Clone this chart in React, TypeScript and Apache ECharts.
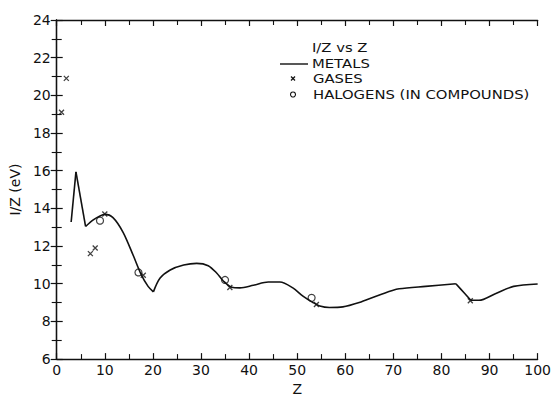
import React, { useEffect, useRef } from "react";
import * as echarts from "echarts";

// Metals: I/Z curve, [Z, I/Z in eV]
const metalsZ = [3, 4, 6, 7.6, 9, 10, 11.7, 13.8, 15.9, 17.6, 19, 20.1, 21.5, 23.6, 26.4, 29.1, 31.5, 33.3, 34.6, 36.4, 38.1, 40.9, 44, 46.4, 49.1, 51.2, 53.3, 54.7, 56.7, 59.5, 62.9, 66.4, 69.8, 71.2, 76.7, 83, 84.7, 86.1, 87.8, 91.2, 95, 100];
const metalsIZ = [13.28, 15.94, 13.04, 13.39, 13.6, 13.68, 13.51, 12.73, 11.51, 10.47, 9.86, 9.57, 10.3, 10.73, 10.99, 11.08, 10.96, 10.56, 10.16, 9.81, 9.78, 9.92, 10.09, 10.09, 9.78, 9.34, 9.0, 8.82, 8.74, 8.77, 9.0, 9.34, 9.64, 9.73, 9.86, 10.0, 9.52, 9.12, 9.12, 9.47, 9.86, 9.99];
// Z values where the metals curve has a sharp corner
const metalsCorners = [4, 6, 20.1, 83, 86.1];

// Gases
const gasesZ = [1, 2, 7, 8, 10, 18, 36, 54, 86];
const gasesIZ = [19.1, 20.9, 11.6, 11.9, 13.7, 10.45, 9.8, 8.9, 9.1];

// Halogens (in compounds)
const halogensZ = [9, 17, 35, 53];
const halogensIZ = [13.35, 10.6, 10.2, 9.25];

const xTicks = { min: 0, max: 100, interval: 10 };
const yTicks = { min: 6, max: 24, interval: 2 };

const INK = "#111";
const FONT = "DejaVu Sans";
const CROSS = "path://M0,0L10,10M10,0L0,10";

const zip = (xs: number[], ys: number[]) => xs.map((x, i) => [x, ys[i]]);

// Split the curve at its corners so each piece is smoothed on its own
function splitAtCorners(pts: number[][], corners: number[]) {
  const pieces: number[][][] = [];
  let cur: number[][] = [];
  pts.forEach((p) => {
    cur.push(p);
    if (corners.includes(p[0])) {
      pieces.push(cur);
      cur = [p];
    }
  });
  if (cur.length > 1) pieces.push(cur);
  return pieces;
}

export default function App() {
  const ref = useRef<HTMLDivElement>(null);

  useEffect(() => {
    if (!ref.current) return;
    const chart = echarts.init(ref.current, undefined, { renderer: "svg" });

    const axisCommon = {
      axisLine: { show: true, lineStyle: { color: INK, width: 1.3 } },
      axisTick: { show: true, inside: true, length: 6, lineStyle: { color: INK, width: 1.2 } },
      minorTick: { show: true, splitNumber: 2, length: 5, lineStyle: { color: INK, width: 1.1 } },
      splitLine: { show: false },
      axisLabel: { color: INK, fontFamily: FONT, fontSize: 14 },
    };

    const metalPieces = splitAtCorners(zip(metalsZ, metalsIZ), metalsCorners).map((piece, i) => ({
      name: "METALS",
      id: "metals-" + i,
      type: "line",
      data: piece,
      showSymbol: false,
      smooth: 0.3,
      lineStyle: { color: INK, width: 1.6 },
      z: 2,
    }));

    const legendText = (text: string, x: number, y: number, size: number) => ({
      type: "text",
      x,
      y,
      scaleX: 1.14,
      style: { text, fill: INK, font: `${size}px ${FONT}`, verticalAlign: "middle" },
    });

    chart.setOption({
      animation: false,
      backgroundColor: "#fff",
      grid: { left: 56, right: 15, top: 20, bottom: 35, containLabel: false },
      xAxis: [
        {
          type: "value",
          ...xTicks,
          position: "bottom",
          ...axisCommon,
          axisLabel: { ...axisCommon.axisLabel, margin: 4 },
          name: "Z",
          nameLocation: "middle",
          nameGap: 21,
          nameTextStyle: { color: INK, fontFamily: FONT, fontSize: 14 },
        },
        {
          type: "value",
          ...xTicks,
          position: "top",
          ...axisCommon,
          axisLabel: { show: false },
        },
      ],
      yAxis: [
        {
          type: "value",
          ...yTicks,
          position: "left",
          ...axisCommon,
          axisLabel: { ...axisCommon.axisLabel, margin: 6 },
          name: "I/Z (eV)",
          nameLocation: "middle",
          nameGap: 30,
          nameTextStyle: { color: INK, fontFamily: FONT, fontSize: 14 },
        },
        {
          type: "value",
          ...yTicks,
          position: "right",
          ...axisCommon,
          axisLabel: { show: false },
        },
      ],
      series: [
        ...metalPieces,
        {
          name: "GASES",
          type: "scatter",
          data: zip(gasesZ, gasesIZ),
          symbol: CROSS,
          symbolSize: 5,
          itemStyle: { color: "transparent", borderColor: INK, borderWidth: 1.3 },
          z: 3,
        },
        {
          name: "HALOGENS (IN COMPOUNDS)",
          type: "scatter",
          data: zip(halogensZ, halogensIZ),
          symbol: "circle",
          symbolSize: 7,
          itemStyle: { color: "transparent", borderColor: INK, borderWidth: 1.2 },
          z: 3,
        },
      ],
      graphic: [
        legendText("I/Z vs Z", 312, 47, 13),
        {
          type: "line",
          shape: { x1: 280, y1: 64, x2: 308, y2: 64 },
          style: { stroke: INK, lineWidth: 1.4 },
        },
        legendText("METALS", 312, 63, 13),
        {
          type: "group",
          children: [
            { type: "line", shape: { x1: 291, y1: 76.5, x2: 295, y2: 80.5 }, style: { stroke: INK, lineWidth: 1.2 } },
            { type: "line", shape: { x1: 295, y1: 76.5, x2: 291, y2: 80.5 }, style: { stroke: INK, lineWidth: 1.2 } },
          ],
        },
        legendText("GASES", 313, 78.5, 13),
        {
          type: "circle",
          shape: { cx: 293, cy: 94.5, r: 2.5 },
          style: { fill: "none", stroke: INK, lineWidth: 1.1 },
        },
        legendText("HALOGENS (IN COMPOUNDS)", 313, 94.5, 13),
      ],
    });

    return () => chart.dispose();
  }, []);

  return (
    <div
      ref={ref}
      style={{ position: "absolute", left: 0, top: 0, width: 554, height: 401 }}
    />
  );
}
